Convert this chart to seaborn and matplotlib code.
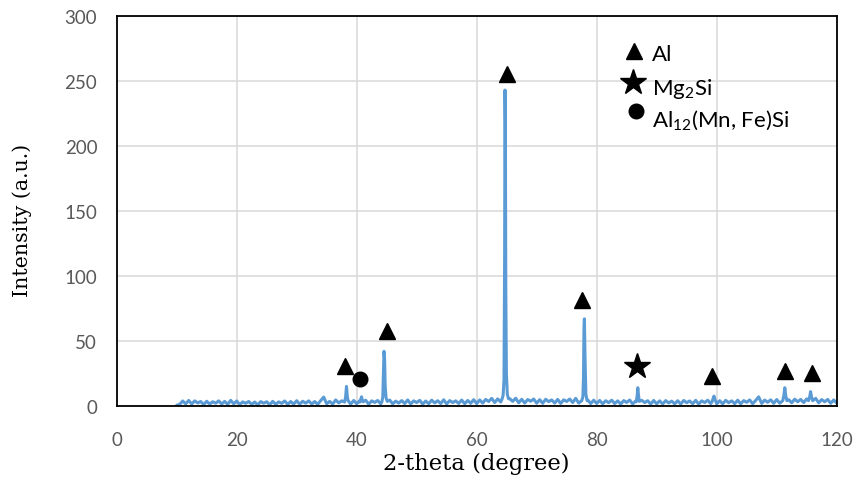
import numpy as np
import pandas as pd
import matplotlib
matplotlib.use("Agg")
import matplotlib.pyplot as plt
import seaborn as sns

# ---- XRD scan: background counts on a 0.5 degree step (10 to 120 degrees) ----
scan_step = 0.5
scan_start = 10.0
background = [
    0.5,
    1.2, 3.8, 1.6, 4.2, 1.5, 3.9, 2.3, 3.4, 1.0, 3.6, 1.4, 3.2, 2.1, 3.9, 1.5, 3.5, 1.2, 4.3, 1.6, 3.8,
    1.0, 3.1, 2.0, 3.4, 1.2, 3.0, 0.8, 3.3, 2.1, 3.2, 0.9, 3.5, 1.3, 3.1, 2.0, 3.8, 1.2, 3.4, 1.4, 4.0,
    1.3, 3.6, 2.1, 3.9, 1.5, 3.4, 1.2, 4.1, 6.8, 1.6, 3.5, 1.4, 4.6, 2.3, 3.9, 1.5, 3.8, 1.4, 4.2, 1.7,
    4.0, 1.6, 4.4, 1.3, 3.9, 2.7, 4.2, 1.5, 3.8, 1.4, 4.5, 1.6, 3.7, 2.2, 4.1, 1.8, 4.6, 1.5, 3.9, 2.6,
    4.3, 1.4, 3.8, 1.7, 4.4, 2.3, 4.0, 1.8, 4.7, 1.5, 4.1, 2.6, 3.9, 1.9, 4.5, 1.7, 4.2, 2.0, 4.8, 1.8,
    4.6, 2.2, 5.0, 3.4, 5.8, 2.6, 5.4, 3.0, 5.2, 2.3, 5.6, 3.5, 5.9, 2.4, 5.1, 2.2, 4.9, 3.6, 5.3, 2.1,
    4.8, 2.0, 5.1, 3.3, 4.6, 2.2, 5.0, 1.9, 4.7, 3.4, 5.3, 2.6, 5.8, 2.2, 5.0, 3.1, 4.6, 1.8, 4.4, 1.9,
    4.2, 1.6, 4.0, 2.5, 4.4, 1.8, 3.9, 1.4, 4.1, 2.7, 4.5, 1.5, 3.8, 1.9, 4.3, 2.6, 4.0, 1.4, 4.2, 1.6,
    3.9, 1.5, 4.1, 2.3, 3.7, 1.6, 4.0, 1.4, 4.2, 2.5, 3.8, 1.7, 4.3, 1.4, 3.9, 2.6, 4.4, 1.8, 4.1, 1.5,
    4.0, 1.6, 4.3, 2.5, 3.9, 1.7, 4.4, 1.6, 4.1, 2.8, 4.6, 1.7, 4.2, 7.0, 1.9, 4.5, 2.8, 4.7, 2.0, 4.9,
    2.1, 5.0, 2.3, 4.8, 2.4, 5.2, 3.2, 5.0, 2.6, 5.4, 2.3, 5.1, 5.8, 2.4, 4.9, 3.2, 5.0, 2.0, 4.6, 2.1,
]

# ---- Diffraction peaks: measured points across each reflection ----
peak_2theta = [
    [38.0, 38.15, 38.25, 38.3, 38.4, 38.5, 38.7],
    [40.55, 40.7, 40.8, 40.9, 41.05],
    [44.2, 44.35, 44.45, 44.55, 44.65, 44.75, 44.9, 45.1],
    [64.2, 64.4, 64.55, 64.65, 64.72, 64.78, 64.85, 64.95, 65.1, 65.3],
    [77.5, 77.7, 77.8, 77.88, 77.95, 78.05, 78.2, 78.4],
    [86.6, 86.75, 86.85, 86.95, 87.1],
    [99.2, 99.4, 99.55, 99.7, 99.9],
    [111.0, 111.2, 111.35, 111.5, 111.7],
    [115.3, 115.5, 115.65, 115.8, 116.0],
]
peak_counts = [
    [3.0, 7, 12, 15, 9, 5, 3.2],
    [3.0, 5.5, 7.0, 5.0, 3.2],
    [3.2, 7, 24, 42, 36, 15, 6, 3.5],
    [5, 8, 20, 110, 243, 215, 90, 25, 9, 5.5],
    [4, 7, 22, 60, 67, 38, 9, 4],
    [3.2, 8, 14, 9, 3.5],
    [3, 5.5, 7.5, 5, 3],
    [4, 8, 14, 8, 4],
    [4, 7, 11, 7, 4],
]

# ---- Phase identification marks ----
al_2theta = [38.05, 45.0, 65.05, 77.5, 99.2, 111.4, 115.9]
al_level = [31, 58, 255, 81.5, 23, 27, 25]
mg2si_2theta = [86.8]
mg2si_level = [31]
al12_2theta = [40.55]
al12_level = [20.8]

phase_labels = ["Al", "Mg$_2$Si", "Al$_{12}$(Mn, Fe)Si"]

# ---- assemble the scan ----
bg_x = scan_start + scan_step * np.arange(len(background))
bg_y = np.array(background, dtype=float)
keep = np.ones(len(bg_x), dtype=bool)
for px in peak_2theta:
    keep &= ~((bg_x >= px[0]) & (bg_x <= px[-1]))
xs = np.concatenate([bg_x[keep]] + [np.array(p, float) for p in peak_2theta])
ys = np.concatenate([bg_y[keep]] + [np.array(c, float) for c in peak_counts])
order = np.argsort(xs)
scan = pd.DataFrame({"two_theta": xs[order], "intensity": ys[order]})

# ---- style ----
sns.set_theme(style="whitegrid")
plt.rcParams["font.family"] = ["Lato", "DejaVu Sans"]
plt.rcParams["mathtext.default"] = "regular"

fig = plt.figure(figsize=(8.6, 4.85), dpi=100)
ax = fig.add_axes([0.1357, 0.161, 0.8372, 0.804])

sns.lineplot(data=scan, x="two_theta", y="intensity", ax=ax,
             color="#5B9BD5", linewidth=2.2, estimator=None, sort=True)

mk = dict(color="black", linestyle="none", clip_on=False, zorder=5)
ax.plot(al_2theta, al_level, marker="^", markersize=12, **mk)
ax.plot(mg2si_2theta, mg2si_level, marker="*", markersize=19, **mk)
ax.plot(al12_2theta, al12_level, marker="o", markersize=10.5, **mk)

# phase key
key_x = [86.3, 86.1, 86.5]
key_y = [273.3, 249.0, 227.0]
key_markers = ["^", "*", "o"]
key_sizes = [12, 19, 10.5]
text_y = [271.0, 244.5, 220.5]
for kx, ky, m, s, ty, lab in zip(key_x, key_y, key_markers, key_sizes, text_y, phase_labels):
    ax.plot([kx], [ky], marker=m, markersize=s, **mk)
    ax.text(89.2, ty, lab, fontsize=16, color="black", va="center", ha="left",
            family=["Lato", "DejaVu Sans"])

ax.set_xlim(0, 120)
ax.set_ylim(0, 300)
ax.set_xticks(np.arange(0, 121, 20))
ax.set_yticks(np.arange(0, 301, 50))
ax.grid(True, color="#D9D9D9", linewidth=1.1)
ax.set_axisbelow(True)
for sp in ax.spines.values():
    sp.set_visible(True)
    sp.set_color("black")
    sp.set_linewidth(1.3)

ax.tick_params(axis="both", length=0, labelsize=13.5, colors="#595959")
ax.tick_params(axis="x", pad=18)
ax.tick_params(axis="y", pad=14)

ax.set_xlabel("2-theta (degree)", fontsize=16.3, color="black",
              family=["DejaVu Serif"])
ax.set_ylabel("Intensity (a.u.)", fontsize=14.8, color="black",
              family=["DejaVu Serif"])
ax.xaxis.set_label_coords(0.5, -0.118)
ax.yaxis.set_label_coords(-0.118, 0.477)

fig.savefig("out.png", dpi=100)
